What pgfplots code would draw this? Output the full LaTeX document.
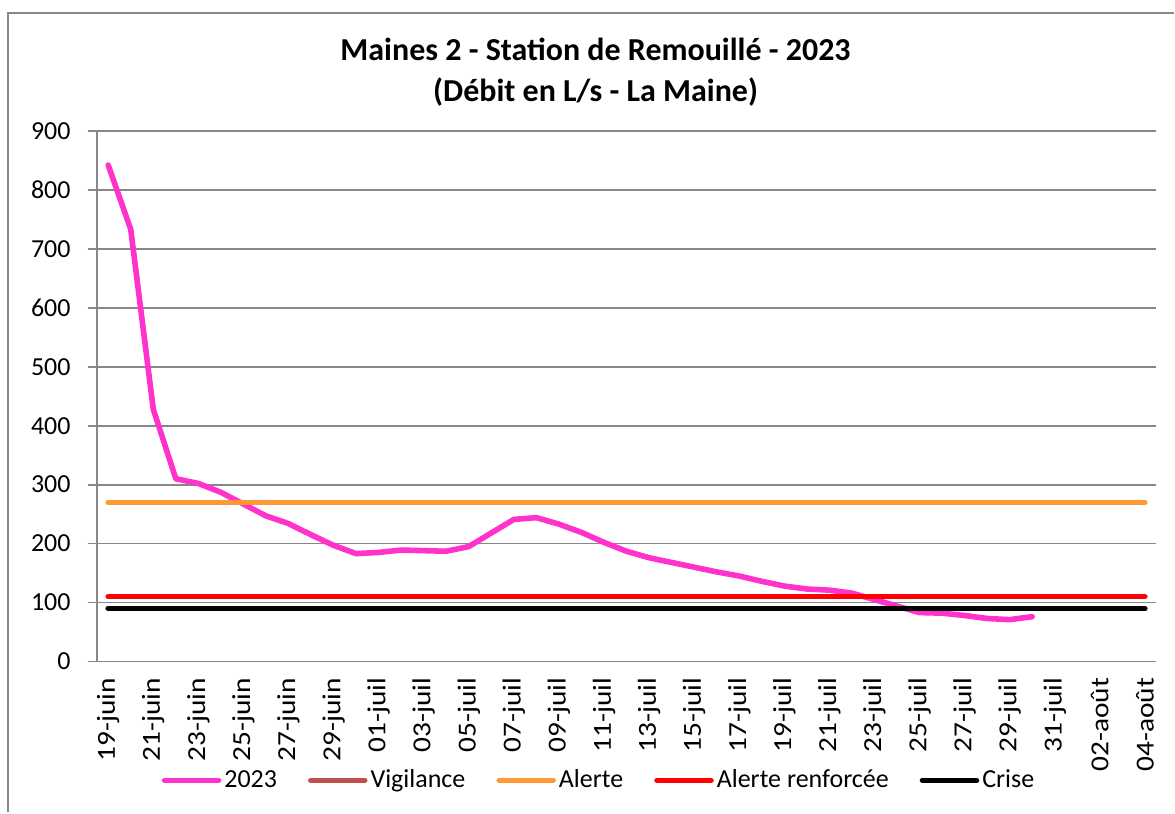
\documentclass[border=0pt]{standalone}
\usepackage{pgfplots}
\pgfplotsset{compat=1.18}
\usepackage{fontspec}
\setmainfont{Carlito}
\definecolor{pinkline}{HTML}{FF33CC}
\definecolor{vig}{HTML}{C0504D}
\definecolor{alerte}{HTML}{FF9933}
\definecolor{gridc}{HTML}{888888}
\begin{document}
\begin{tikzpicture}[x=1pt,y=1pt]
\path (0,0) rectangle (587.5,407);
\draw[gridc, line width=0.9pt] (4,0.5) -- (4,400.5) -- (587.5,400.5);
\node[anchor=base, font=\bfseries\fontsize{16}{19}\selectfont] at (298,376.5) {Maines 2 - Station de Remouillé - 2023};
\node[anchor=base, font=\bfseries\fontsize{16}{19}\selectfont] at (298,356) {(Débit en L/s - La Maine)};
\begin{axis}[
  at={(48.5pt,76pt)}, anchor=south west,
  scale only axis, width=530pt, height=265.5pt,
  xmin=-0.5, xmax=46.5, ymin=0, ymax=900,
  axis x line*=bottom, axis y line*=left,
  axis line style={gridc, line width=0.9pt, -},
  ytick={0,100,...,900},
  ymajorgrids, major grid style={gridc, line width=0.9pt},
  xtick={0,2,...,46},
  xticklabels={19-juin,21-juin,23-juin,25-juin,27-juin,29-juin,01-juil,03-juil,05-juil,07-juil,09-juil,11-juil,13-juil,15-juil,17-juil,19-juil,21-juil,23-juil,25-juil,27-juil,29-juil,31-juil,02-août,04-août},
  minor xtick={-0.5,1.5,...,45.5},
  tick align=outside,
  xtick style={draw=none},
  minor tick style={gridc, line width=0.9pt},
  minor tick length=4pt,
  ytick style={gridc, line width=0.9pt},
  major tick length=4.5pt,
  x tick label style={rotate=90, xscale=1.13, anchor=east, font=\fontsize{13}{15}\selectfont, inner sep=0pt},
  xticklabel shift=3.5pt,
  y tick label style={anchor=east, font=\fontsize{13}{15}\selectfont, inner sep=0pt},
  yticklabel shift=8.5pt,
  /pgf/number format/assume math mode=true,
  legend style={at={(axis description cs:0.4745,-0.224)}, anchor=center, draw=none, fill=none,
    legend columns=5, font=\fontsize{13}{15}\selectfont,
    /tikz/every even column/.append style={column sep=14pt},
    nodes={inner sep=1.5pt}},
  legend image code/.code={\draw[#1, line cap=round] (0pt,0pt) -- (27pt,0pt);},
  every axis plot/.append style={line width=2.8pt, line cap=round, line join=round},
  clip=false,
]
\addplot[pinkline, mark=none] coordinates {
(0,842) (1,733) (2,428) (3,310) (4,302) (5,287) (6,267) (7,247) (8,234) (9,215)
(10,197) (11,183) (12,185) (13,189) (14,188) (15,187) (16,195) (17,218) (18,241) (19,244)
(20,233) (21,219) (22,202) (23,187) (24,176) (25,168) (26,160) (27,152) (28,145) (29,136)
(30,128) (31,123) (32,121) (33,116) (34,105) (35,94) (36,83) (37,82) (38,78) (39,73)
(40,71) (41,76)};
\addlegendentry{2023}
\addlegendimage{vig, line width=2.8pt}
\addlegendentry{Vigilance}
\addplot[alerte, mark=none] coordinates {(0,270) (46,270)};
\addlegendentry{Alerte}
\addplot[red, mark=none] coordinates {(0,110) (46,110)};
\addlegendentry{Alerte renforcée}
\addplot[black, mark=none] coordinates {(0,90) (46,90)};
\addlegendentry{Crise}
\end{axis}
\end{tikzpicture}
\end{document}
